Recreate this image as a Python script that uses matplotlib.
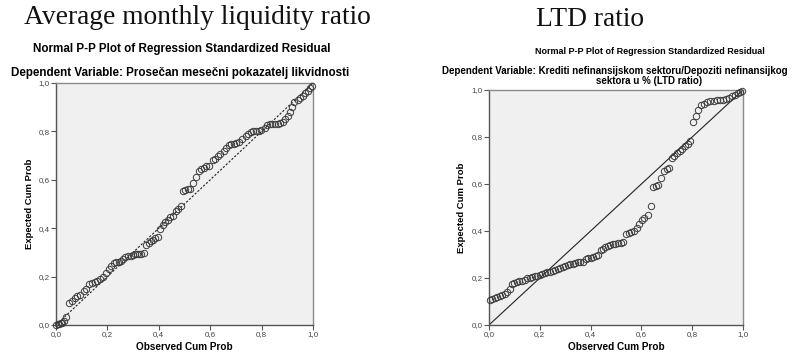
import matplotlib
matplotlib.use("Agg")
import matplotlib.pyplot as plt
from matplotlib.ticker import FuncFormatter

# ---------------------------------------------------------------
# data
# ---------------------------------------------------------------
TITLE_LEFT = "Average monthly liquidity ratio"
TITLE_RIGHT = "LTD ratio"
PP_TITLE = "Normal P-P Plot of Regression Standardized Residual"
DEP_LEFT = "Dependent Variable: Prosečan mesečni pokazatelj likvidnosti"
DEP_RIGHT_1 = "Dependent Variable: Krediti nefinansijskom sektoru/Depoziti nefinansijkog"
DEP_RIGHT_2 = "sektora u % (LTD ratio)"
XLABEL = "Observed Cum Prob"
YLABEL = "Expected Cum Prob"
TICKS = [0.0, 0.2, 0.4, 0.6, 0.8, 1.0]

left_obs = [0.000, 0.006, 0.012, 0.018, 0.024, 0.030, 0.040, 0.052, 0.062, 0.072,
            0.082, 0.095, 0.108, 0.118, 0.130, 0.140, 0.150, 0.160, 0.172, 0.182,
            0.195, 0.205, 0.215, 0.225, 0.235, 0.245, 0.252, 0.262, 0.270, 0.280,
            0.290, 0.298, 0.306, 0.314, 0.322, 0.332, 0.342, 0.352, 0.360, 0.368,
            0.376, 0.385, 0.395, 0.405, 0.415, 0.425, 0.435, 0.445, 0.455, 0.465,
            0.475, 0.485, 0.495, 0.503, 0.512, 0.522, 0.535, 0.545, 0.555, 0.565,
            0.575, 0.585, 0.595, 0.610, 0.620, 0.630, 0.640, 0.652, 0.662, 0.672,
            0.682, 0.692, 0.702, 0.712, 0.725, 0.738, 0.748, 0.758, 0.768, 0.778,
            0.788, 0.798, 0.812, 0.822, 0.832, 0.842, 0.852, 0.862, 0.872, 0.882,
            0.892, 0.903, 0.912, 0.918, 0.928, 0.940, 0.950, 0.960, 0.970, 0.980,
            0.990, 0.998]
left_exp = [0.000, 0.003, 0.006, 0.008, 0.010, 0.015, 0.035, 0.090, 0.100, 0.110,
            0.118, 0.125, 0.140, 0.150, 0.168, 0.174, 0.178, 0.182, 0.192, 0.198,
            0.215, 0.232, 0.245, 0.255, 0.260, 0.262, 0.265, 0.272, 0.280, 0.284,
            0.287, 0.290, 0.292, 0.293, 0.294, 0.295, 0.296, 0.332, 0.340, 0.346,
            0.352, 0.358, 0.365, 0.395, 0.415, 0.425, 0.435, 0.445, 0.450, 0.470,
            0.480, 0.490, 0.555, 0.558, 0.560, 0.562, 0.585, 0.610, 0.635, 0.645,
            0.650, 0.655, 0.657, 0.680, 0.688, 0.698, 0.708, 0.720, 0.733, 0.745,
            0.748, 0.750, 0.752, 0.755, 0.770, 0.780, 0.790, 0.798, 0.800, 0.802,
            0.803, 0.806, 0.815, 0.826, 0.832, 0.830, 0.830, 0.832, 0.835, 0.840,
            0.850, 0.865, 0.880, 0.900, 0.920, 0.928, 0.938, 0.948, 0.958, 0.966,
            0.978, 0.988]

right_obs = [0.003, 0.012, 0.022, 0.032, 0.042, 0.052, 0.062, 0.072, 0.082, 0.090,
             0.100, 0.110, 0.120, 0.130, 0.140, 0.150, 0.160, 0.170, 0.180, 0.190,
             0.200, 0.210, 0.220, 0.230, 0.240, 0.250, 0.260, 0.270, 0.280, 0.290,
             0.300, 0.310, 0.320, 0.330, 0.340, 0.350, 0.360, 0.370, 0.380, 0.390,
             0.400, 0.410, 0.420, 0.430, 0.440, 0.450, 0.458, 0.468, 0.478, 0.488,
             0.498, 0.508, 0.518, 0.528, 0.540, 0.550, 0.560, 0.572, 0.582, 0.592,
             0.602, 0.612, 0.625, 0.637, 0.647, 0.657, 0.667, 0.678, 0.690, 0.700,
             0.710, 0.720, 0.730, 0.740, 0.750, 0.760, 0.770, 0.782, 0.792, 0.804,
             0.814, 0.824, 0.836, 0.848, 0.860, 0.872, 0.884, 0.896, 0.908, 0.920,
             0.932, 0.944, 0.956, 0.968, 0.980, 0.990, 0.998]
right_exp = [0.108, 0.112, 0.116, 0.120, 0.125, 0.128, 0.134, 0.142, 0.155, 0.175,
             0.178, 0.182, 0.186, 0.188, 0.192, 0.198, 0.202, 0.205, 0.207, 0.208,
             0.212, 0.216, 0.220, 0.224, 0.227, 0.231, 0.236, 0.240, 0.244, 0.248,
             0.251, 0.254, 0.258, 0.261, 0.263, 0.266, 0.268, 0.270, 0.280, 0.284,
             0.287, 0.291, 0.295, 0.300, 0.318, 0.325, 0.334, 0.338, 0.340, 0.343,
             0.346, 0.348, 0.350, 0.352, 0.388, 0.392, 0.395, 0.402, 0.412, 0.430,
             0.448, 0.455, 0.468, 0.506, 0.588, 0.592, 0.596, 0.625, 0.655, 0.662,
             0.668, 0.712, 0.720, 0.730, 0.740, 0.750, 0.762, 0.770, 0.782, 0.862,
             0.890, 0.915, 0.935, 0.942, 0.948, 0.952, 0.955, 0.956, 0.956, 0.958,
             0.962, 0.968, 0.975, 0.980, 0.986, 0.990, 0.995]

# ---------------------------------------------------------------
# layout helpers (pixel positions of the 796x353 reference)
# ---------------------------------------------------------------
W, H = 796, 353
plt.rcParams["font.family"] = ["Liberation Sans", "DejaVu Sans"]

fig = plt.figure(figsize=(W / 100, H / 100), dpi=100)
fig.patch.set_facecolor("white")


def fx(px):
    return px / W


def fy(py):
    return 1 - py / H


def make_panel(rect, obs, exp, line_style):
    l, t, r, b = rect
    ax = fig.add_axes([fx(l), fy(b), fx(r - l), (b - t) / H])
    ax.set_facecolor("#f0f0f0")
    ax.plot([0, 1], [0, 1], color="#222222", linewidth=0.8, linestyle=line_style,
            dashes=(2.0, 1.5) if line_style == "--" else (None, None), zorder=2)
    ax.plot(obs, exp, linestyle="none", marker="o", markersize=4.6,
            markerfacecolor="none", markeredgecolor="#3c3c3c",
            markeredgewidth=0.7, zorder=3, clip_on=False)
    ax.set_xlim(0, 1)
    ax.set_ylim(0, 1)
    ax.set_xticks(TICKS)
    ax.set_yticks(TICKS)
    fmt = FuncFormatter(lambda v, p: f"{v:.1f}".replace(".", ","))
    ax.xaxis.set_major_formatter(fmt)
    ax.yaxis.set_major_formatter(fmt)
    ax.tick_params(direction="out", length=3.5, width=0.8, color="#555555",
                   labelsize=5.8, labelcolor="#444444", pad=1.2)
    for sp in ax.spines.values():
        sp.set_color("#8a8a8a")
        sp.set_linewidth(1.0)
    ax.spines["left"].set_color("#555555")
    ax.spines["bottom"].set_color("#555555")
    return ax


ax1 = make_panel((56, 83, 313, 325), left_obs, left_exp, "--")
ax2 = make_panel((489, 90, 743, 325), right_obs, right_exp, "-")

# big serif headings
fig.text(fx(197), fy(18), TITLE_LEFT, family="Liberation Serif", fontsize=19.8,
         ha="center", va="center", color="#111111")
fig.text(fx(590), fy(19), TITLE_RIGHT, family="Liberation Serif", fontsize=19.8,
         ha="center", va="center", color="#111111")

# SPSS chart titles
fig.text(fx(182), fy(49), PP_TITLE, fontsize=8.4, fontweight="bold",
         ha="center", va="center")
fig.text(fx(180), fy(73), DEP_LEFT, fontsize=8.4, fontweight="bold",
         ha="center", va="center")
fig.text(fx(650), fy(51), PP_TITLE, fontsize=6.5, fontweight="bold",
         ha="center", va="center")
fig.text(fx(615), fy(71), DEP_RIGHT_1, fontsize=7.0, fontweight="bold",
         ha="center", va="center")
fig.text(fx(649), fy(81), DEP_RIGHT_2, fontsize=7.0, fontweight="bold",
         ha="center", va="center")

# axis labels
fig.text(fx(184), fy(347), XLABEL, fontsize=7.2, fontweight="bold",
         ha="center", va="center")
fig.text(fx(616), fy(347), XLABEL, fontsize=7.2, fontweight="bold",
         ha="center", va="center")
fig.text(fx(30), fy(204), YLABEL, fontsize=6.8, fontweight="bold",
         ha="center", va="center", rotation=90)
fig.text(fx(462), fy(208), YLABEL, fontsize=6.8, fontweight="bold",
         ha="center", va="center", rotation=90)

plt.savefig("out.png", dpi=100)
plt.close()
